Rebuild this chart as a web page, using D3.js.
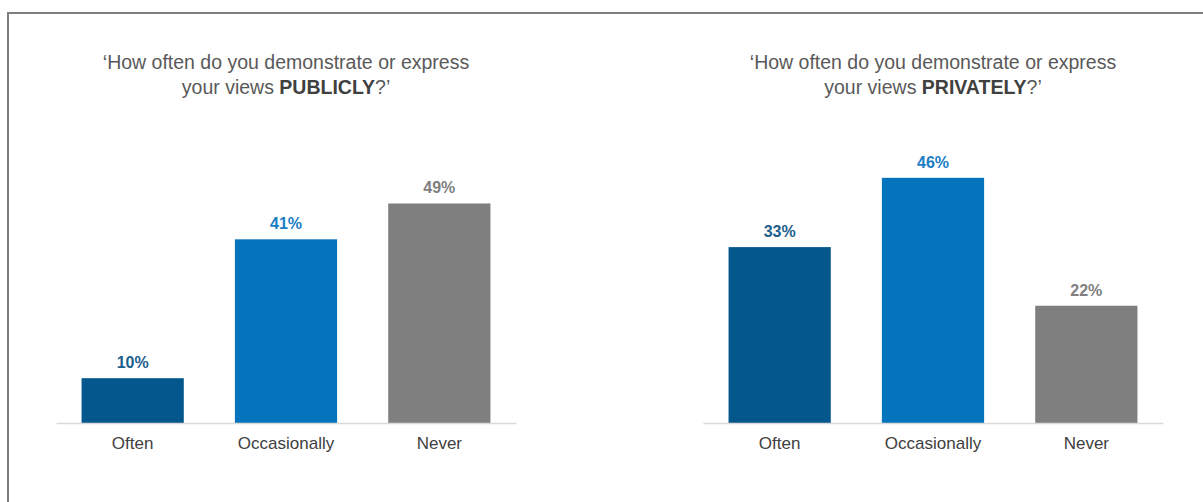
<!DOCTYPE html>
<html>
<head>
<meta charset="utf-8">
<script src="https://cdn.jsdelivr.net/npm/d3@7"></script>
<style>
  html, body { margin: 0; padding: 0; background: #fff; }
  svg { display: block; font-family: "Liberation Sans", Arial, sans-serif; }
</style>
</head>
<body>
<div id="chart-container"></div>
<script>
const categories = ['Often', 'Occasionally', 'Never'];
const publicValues = [10, 41, 49];
const privateValues = [33, 46, 22];
const titles = [
    ['\u2018How often do you demonstrate or express', 'your views ', 'PUBLICLY', '?\u2019'],
    ['\u2018How often do you demonstrate or express', 'your views ', 'PRIVATELY', '?\u2019']
];
const barColors = ['#03578c', '#0474bc', '#7f7f7f'];
const labelColors = ['#1c5e8c', '#1b7dc3', '#7f7f7f'];

const width = 1203, height = 502;
const svg = d3.select('#chart-container')
    .append('svg')
    .attr('width', width)
    .attr('height', height);

// frame (top + left edge only)
svg.append('path')
    .attr('d', `M8,${height} V13 H${width}`)
    .attr('fill', 'none')
    .attr('stroke', '#7f7f7f')
    .attr('stroke-width', 2);

const baseline = 423;

function drawPanel(values, title, x0, x1, pxPerPct) {
    const x = d3.scaleBand()
        .domain(categories)
        .range([x0, x1])
        .paddingInner(1 / 3)
        .paddingOuter(1 / 6);

    const y = d3.scaleLinear()
        .domain([0, 50])
        .range([baseline, baseline - 50 * pxPerPct]);

    const g = svg.append('g');
    const cx = (x0 + x1) / 2;

    const t = g.append('text')
        .attr('text-anchor', 'middle')
        .attr('font-size', 19.5)
        .attr('fill', '#595959');
    t.append('tspan').attr('x', cx).attr('y', 69).text(title[0]);
    const l2 = t.append('tspan').attr('x', cx).attr('y', 94);
    l2.append('tspan').text(title[1]);
    l2.append('tspan').attr('font-weight', 'bold').attr('fill', '#404040').text(title[2]);
    l2.append('tspan').text(title[3]);

    g.selectAll('rect')
        .data(values)
        .enter()
        .append('rect')
        .attr('x', (d, i) => x(categories[i]))
        .attr('y', d => y(d))
        .attr('width', x.bandwidth())
        .attr('height', d => baseline - y(d))
        .attr('fill', (d, i) => barColors[i]);

    g.selectAll('.val')
        .data(values)
        .enter()
        .append('text')
        .attr('class', 'val')
        .attr('x', (d, i) => x(categories[i]) + x.bandwidth() / 2)
        .attr('y', d => y(d) - 10)
        .attr('text-anchor', 'middle')
        .attr('font-size', 16)
        .attr('font-weight', 'bold')
        .attr('fill', (d, i) => labelColors[i])
        .text(d => d + '%');

    const axis = g.append('g')
        .attr('transform', `translate(0,${baseline})`)
        .call(d3.axisBottom(x).tickSize(0).tickPadding(14).tickSizeOuter(0));
    axis.select('.domain').attr('stroke', '#d9d9d9').attr('stroke-width', 1.5);
    axis.selectAll('text')
        .attr('font-size', 17)
        .attr('font-family', '"Liberation Sans", Arial, sans-serif')
        .attr('fill', '#404040');
}

drawPanel(publicValues, titles[0], 56, 516, 4.48);
drawPanel(privateValues, titles[1], 703, 1163, 5.33);
</script>
</body>
</html>
